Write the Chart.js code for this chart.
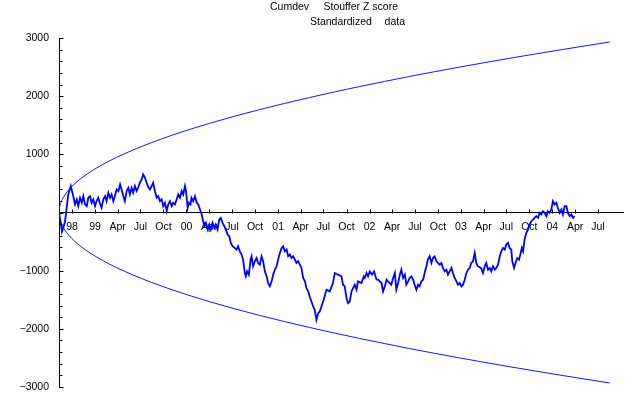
<!DOCTYPE html>
<html><head><meta charset="utf-8">
<script src="https://cdn.jsdelivr.net/npm/chart.js@4.4.1/dist/chart.umd.min.js"></script>
<style>html,body{margin:0;padding:0;background:#fff}#wrap{width:640px;height:395px;position:relative}</style>
</head><body><div id="wrap"><canvas id="c" width="640" height="395"></canvas></div>
<script>
// ---------- data ----------
const titleLine1 = ["Cumdev", "Stouffer Z score"];
const titleLine2 = ["Standardized", "data"];
const startDate = "1998-08-10";           // day 0 of the x axis
const xMaxDay = 2252;
const tickDates = ["1998-10-01","1999-01-01","1999-04-01","1999-07-01","1999-10-01","2000-01-01","2000-04-01","2000-07-01","2000-10-01","2001-01-01","2001-04-01","2001-07-01","2001-10-01","2002-01-01","2002-04-01","2002-07-01","2002-10-01","2003-01-01","2003-04-01","2003-07-01","2003-10-01","2004-01-01","2004-04-01","2004-07-01"];
const tickLabels = ["98","99","Apr","Jul","Oct","00","Apr","Jul","Oct","01","Apr","Jul","Oct","02","Apr","Jul","Oct","03","Apr","Jul","Oct","04","Apr","Jul"];
const yTickValues = [-3000,-2000,-1000,0,1000,2000,3000];
const yTickLabels = ["\u22123000","\u22122000","\u22121000","","1000","2000","3000"];

const dayIndex = [0,6,12,18,24,31,37,47,57,64,71,77,84,91,97,104,111,117,124,130,137,144,150,157,164,170,177,184,190,197,204,210,217,223,230,237,244,250,257,263,270,277,283,290,296,303,310,316,323,330,336,343,350,356,363,370,376,383,390,396,403,410,416,423,430,436,443,450,456,463,470,476,483,490,496,503,507,514,519,525,529,536,543,550,556,563,570,574,580,587,594,600,606,613,620,626,633,640,646,653,660,666,673,680,686,693,699,709,715,722,729,735,742,746,751,758,765,769,775,782,789,795,802,809,815,822,829,835,842,849,855,862,869,875,882,889,895,902,909,915,922,928,935,942,948,955,962,968,975,982,988,995,1001,1008,1015,1021,1028,1035,1041,1048,1057,1068,1081,1094,1101,1114,1128,1134,1141,1148,1154,1161,1168,1174,1181,1188,1194,1208,1217,1221,1228,1234,1241,1250,1258,1268,1274,1281,1288,1294,1301,1308,1314,1321,1327,1334,1341,1347,1354,1361,1367,1374,1381,1387,1394,1400,1407,1414,1420,1427,1434,1440,1447,1454,1460,1467,1473,1480,1487,1493,1500,1507,1513,1520,1527,1533,1540,1547,1553,1560,1567,1573,1580,1587,1593,1600,1607,1613,1620,1627,1633,1640,1646,1653,1660,1666,1673,1680,1686,1693,1700,1706,1713,1720,1726,1733,1740,1746,1753,1760,1766,1773,1780,1786,1793,1799,1806,1810,1817,1823,1830,1837,1842,1848,1853,1859,1866,1873,1879,1886,1893,1899,1906,1913,1919,1926,1932,1939,1946,1952,1959,1966,1972,1979,1986,1992,1999,2006,2012,2019,2026,2032,2039,2046,2052,2059];
const cumdev = [0,-150,-330,-250,-160,90,310,455,280,140,225,110,253,167,280,138,110,253,280,167,225,110,195,253,150,80,225,280,195,340,253,310,195,280,397,367,483,397,280,195,367,425,310,425,340,455,367,425,512,569,655,598,512,440,397,455,512,367,253,280,195,225,110,167,22,138,195,110,167,138,225,310,253,367,310,455,367,80,167,138,253,195,280,167,138,52,-35,-120,-236,-178,-293,-207,-293,-178,-264,-207,-293,-120,-92,-178,-236,-293,-380,-408,-523,-580,-600,-638,-580,-667,-724,-810,-1040,-1098,-1012,-1069,-810,-753,-925,-839,-782,-868,-897,-753,-839,-1012,-1098,-1213,-1270,-1184,-1069,-983,-925,-810,-695,-609,-580,-667,-638,-753,-724,-782,-753,-810,-868,-839,-897,-954,-1126,-1184,-1299,-1357,-1443,-1529,-1615,-1672,-1845,-1730,-1701,-1615,-1500,-1327,-1356,-1213,-1040,-1069,-1098,-1241,-1270,-1471,-1557,-1529,-1357,-1300,-1241,-1327,-1184,-1213,-1098,-1126,-1040,-1098,-1012,-1069,-1012,-1155,-1155,-1184,-1213,-1357,-1270,-1155,-1184,-1213,-1241,-1126,-1040,-1327,-1213,-1070,-983,-1126,-1069,-1241,-1184,-1126,-1098,-1155,-1241,-1327,-1241,-1270,-1184,-1155,-1040,-925,-810,-753,-868,-782,-753,-839,-868,-897,-868,-954,-1012,-983,-1069,-1012,-954,-1040,-1126,-1184,-1241,-1213,-1270,-1241,-1155,-1040,-983,-954,-868,-839,-695,-868,-925,-940,-960,-1040,-925,-868,-983,-954,-1012,-925,-983,-954,-897,-753,-667,-609,-638,-552,-523,-609,-638,-839,-954,-868,-782,-810,-724,-609,-667,-466,-351,-293,-207,-150,-121,-92,-63,-92,-6,-35,22,-6,-63,22,-6,52,195,138,167,81,-6,52,-35,109,109,-6,-63,-35,-92,-63];

const envDays  = [0,1,3,6,10,16,25,40,60,85,115,150,200,260,330,410,500,600,700,800,900,1000,1100,1200,1300,1400,1500,1600,1700,1800,1900,2000,2100,2199];
const envUpper = [0,62,108,153,198,250,312,395,484,576,670,765,884,1008,1135,1266,1398,1531,1654,1768,1875,1976,2073,2165,2253,2339,2421,2500,2577,2652,2724,2795,2864,2931];
const envLower = [0,-62,-108,-153,-198,-250,-312,-395,-484,-576,-670,-765,-884,-1008,-1135,-1266,-1398,-1531,-1654,-1768,-1875,-1976,-2073,-2165,-2253,-2339,-2421,-2500,-2577,-2652,-2724,-2795,-2864,-2931];

// ---------- derived ----------
const DAY = 86400000;
const t0 = Date.parse(startDate + "T00:00:00Z");
const tickDays = tickDates.map(d => Math.round((Date.parse(d + "T00:00:00Z") - t0) / DAY));
const pts = (xs, ys) => xs.map((x, i) => ({x: x, y: ys[i]}));

const FONT = '"Liberation Sans", Arial, sans-serif';
Chart.defaults.color = '#000';
Chart.defaults.font.family = FONT;

const marks = {
  id: 'marks',
  afterDraw(chart) {
    const {ctx} = chart;
    const x = chart.scales.x, y = chart.scales.y;
    const y0 = Math.round(y.getPixelForValue(0)) + 0.5;
    ctx.save();
    ctx.strokeStyle = '#000';
    ctx.lineWidth = 1;
    ctx.beginPath();
    tickDays.forEach(d => {
      const px = Math.round(x.getPixelForValue(d)) + 0.5;
      ctx.moveTo(px, y0); ctx.lineTo(px, y0 - 4);
    });
    const lx = Math.round(x.left) + 0.5;
    for (let v = -3000; v <= 3000; v += 200) {
      const py = Math.round(y.getPixelForValue(v)) + 0.5;
      const len = (v % 1000 === 0) ? 4 : 3;
      ctx.moveTo(lx, py); ctx.lineTo(lx + len, py);
    }
    ctx.stroke();
    ctx.fillStyle = '#000';
    ctx.font = '10.5px ' + FONT;
    ctx.textBaseline = 'middle';
    ctx.textAlign = 'left';  ctx.fillText(titleLine1[0], 270, 7);
    ctx.textAlign = 'right'; ctx.fillText(titleLine1[1], 398, 7);
    ctx.textAlign = 'left';  ctx.fillText(titleLine2[0], 310, 22);
    ctx.textAlign = 'right'; ctx.fillText(titleLine2[1], 405, 22);
    ctx.restore();
  }
};

new Chart(document.getElementById('c'), {
  type: 'line',
  data: {
    datasets: [
      {data: pts(envDays, envUpper), borderColor: '#1414ff', borderWidth: 1, pointRadius: 0, cubicInterpolationMode: 'monotone', fill: false},
      {data: pts(envDays, envLower), borderColor: '#1414ff', borderWidth: 1, pointRadius: 0, cubicInterpolationMode: 'monotone', fill: false},
      {data: pts(dayIndex, cumdev), borderColor: '#0000ff', borderWidth: 1.8, pointRadius: 0, tension: 0, fill: false}
    ]
  },
  options: {
    responsive: false,
    animation: false,
    devicePixelRatio: 1,
    events: [],
    layout: {padding: {left: 0, top: 38, right: 17, bottom: 8}},
    plugins: {legend: {display: false}, title: {display: false}, tooltip: {enabled: false}},
    scales: {
      x: {
        type: 'linear', min: 0, max: xMaxDay, position: {y: 0},
        afterFit: s => { s.height = 0; s.paddingLeft = 0; s.paddingRight = 0; },
        afterBuildTicks: s => { s.ticks = tickDays.map(v => ({value: v})); },
        grid: {display: true, drawOnChartArea: false, drawTicks: false},
        border: {display: true, color: '#000', width: 1},
        ticks: {autoSkip: false, maxRotation: 0, padding: 8, font: {size: 10.5},
                callback: (v, i) => tickLabels[i]}
      },
      y: {
        type: 'linear', min: -3000, max: 3000, position: 'left',
        afterFit: s => { s.width = 59; s.paddingTop = 0; s.paddingBottom = 0; },
        afterBuildTicks: s => { s.ticks = yTickValues.map(v => ({value: v})); },
        grid: {display: true, drawOnChartArea: false, drawTicks: false},
        border: {display: true, color: '#000', width: 1},
        ticks: {autoSkip: false, padding: 10, font: {size: 10.5},
                callback: (v, i) => yTickLabels[i]}
      }
    }
  },
  plugins: [marks]
});
</script>
</body></html>
